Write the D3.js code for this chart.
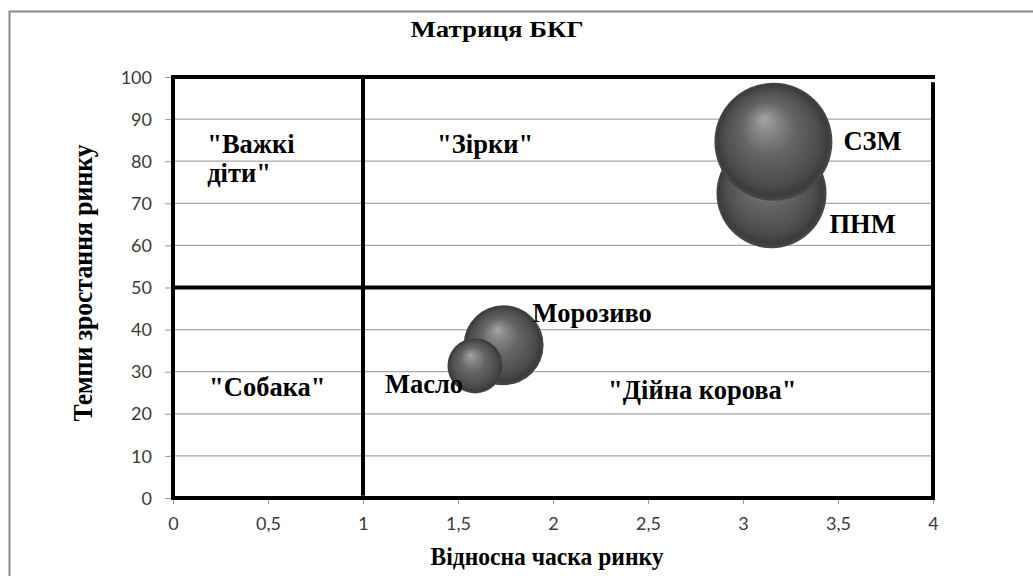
<!DOCTYPE html>
<html>
<head>
<meta charset="utf-8">
<script src="https://cdn.jsdelivr.net/npm/d3@7"></script>
<style>
  html, body { margin: 0; padding: 0; background: #fff; }
  svg { display: block; }
  .tick-label { font-family: Lato, "Open Sans", sans-serif; font-size: 18px; fill: #3a3a3a; }
  .serif-bold { font-family: "Liberation Serif", "Times New Roman", serif; font-weight: bold; fill: #000; }
</style>
</head>
<body>
<svg id="chart" width="1033" height="576"></svg>
<script>
// BCG matrix: relative market share vs. market growth rate
const products = ["ПНМ", "СЗМ", "Морозиво", "Масло"];
const marketShare = [3.15, 3.16, 1.74, 1.59];
const growthRate = [72.4, 84.6, 36.3, 31.4];
const bubbleSize = [87, 100, 46, 22];

const xTickValues = [0, 0.5, 1, 1.5, 2, 2.5, 3, 3.5, 4];
const yTickValues = [0, 10, 20, 30, 40, 50, 60, 70, 80, 90, 100];

// Quadrant captions (anchored in data space)
const quadrantText = [
  { lines: ["\"Важкі", "діти\""], x: 0.18, y: 82 },
  { lines: ["\"Зірки\""], x: 1.39, y: 82 },
  { lines: ["\"Собака\""], x: 0.19, y: 24.2 },
  { lines: ["\"Дійна корова\""], x: 2.29, y: 23.6 }
];

// Matrix dividing lines: frame plus the two split lines
const dividers = [
  { x1: 0, y1: 0, x2: 0, y2: 100 },
  { x1: 0, y1: 100, x2: 4, y2: 100 },
  { x1: 0, y1: 0, x2: 4, y2: 0 },
  { x1: 4, y1: 0, x2: 4, y2: 98.3 },
  { x1: 1, y1: 1, x2: 1, y2: 100 },
  { x1: 0, y1: 50, x2: 4, y2: 50 }
];

const svg = d3.select("#chart");
const W = 1033, H = 576;
const margin = { left: 173, right: 100, top: 77, bottom: 78 };

const x = d3.scaleLinear().domain([0, 4]).range([margin.left, W - margin.right]);
const y = d3.scaleLinear().domain([0, 100]).range([H - margin.bottom, margin.top]);
const r = d3.scaleSqrt().domain([0, 100]).range([0, 59]);

// outer chart frame
svg.append("rect")
  .attr("x", 9.5).attr("y", 11.5)
  .attr("width", W + 10).attr("height", H + 10)
  .attr("fill", "none").attr("stroke", "#8a8a8a").attr("stroke-width", 2);

const defs = svg.append("defs");
const grad = defs.append("radialGradient")
  .attr("id", "sphere")
  .attr("cx", "0.5").attr("cy", "0.5").attr("r", "0.5")
  .attr("fx", "0.42").attr("fy", "0.3");
[[0, "#a6a6a6"], [0.18, "#888"], [0.45, "#656565"], [0.8, "#4d4d4d"], [0.94, "#3c3c3c"], [1, "#4a4a4a"]]
  .forEach(([o, c]) => grad.append("stop").attr("offset", o).attr("stop-color", c));

const shadow = defs.append("filter").attr("id", "soft").attr("x", "-10%").attr("y", "-10%").attr("width", "120%").attr("height", "120%");
shadow.append("feGaussianBlur").attr("stdDeviation", 0.6);

// gridlines
svg.append("g")
  .selectAll("line")
  .data(yTickValues)
  .join("line")
  .attr("x1", x(0)).attr("x2", x(4))
  .attr("y1", d => y(d)).attr("y2", d => y(d))
  .attr("stroke", "#a8a8a8").attr("stroke-width", 1.2);

// y axis
const yAxis = svg.append("g")
  .attr("transform", `translate(${x(0)},0)`)
  .call(d3.axisLeft(y).tickValues(yTickValues).tickSize(8).tickPadding(13).tickFormat(d3.format("d")));
yAxis.select(".domain").remove();
yAxis.selectAll(".tick line").attr("stroke", "#999");
yAxis.selectAll(".tick text").attr("class", "tick-label").attr("dy", "0.34em");

// x axis
const fmtComma = d => String(d).replace(".", ",");
const xAxis = svg.append("g")
  .attr("transform", `translate(0,${y(0)})`)
  .call(d3.axisBottom(x).tickValues(xTickValues).tickSize(6).tickPadding(13).tickFormat(fmtComma));
xAxis.select(".domain").remove();
xAxis.selectAll(".tick line").attr("stroke", "#999");
xAxis.selectAll(".tick text").attr("class", "tick-label");

// thick matrix lines with a faint grey halo
const lineG = svg.append("g");
lineG.selectAll("line.halo")
  .data(dividers)
  .join("line")
  .attr("class", "halo")
  .attr("x1", d => x(d.x1) + 1).attr("x2", d => x(d.x2) + 1)
  .attr("y1", d => y(d.y1) + 1.5).attr("y2", d => y(d.y2) + 1.5)
  .attr("stroke", "#bbb").attr("stroke-width", 5).attr("filter", "url(#soft)");
lineG.selectAll("line.main")
  .data(dividers)
  .join("line")
  .attr("class", "main")
  .attr("x1", d => x(d.x1)).attr("x2", d => x(d.x2))
  .attr("y1", d => y(d.y1)).attr("y2", d => y(d.y2))
  .attr("stroke", "#000").attr("stroke-width", 4).attr("stroke-linecap", "square");

// bubbles
const bubbles = products.map((name, i) => ({ name, x: marketShare[i], y: growthRate[i], s: bubbleSize[i] }));
svg.append("g")
  .selectAll("circle")
  .data(bubbles)
  .join("circle")
  .attr("cx", d => x(d.x)).attr("cy", d => y(d.y))
  .attr("r", d => r(d.s))
  .attr("fill", "url(#sphere)")
  .attr("filter", "url(#soft)");

// bubble labels
const labelOffset = {
  "ПНМ": { dx: 58, dy: 40, anchor: "start" },
  "СЗМ": { dx: 70, dy: 8, anchor: "start" },
  "Морозиво": { dx: 29, dy: -23, anchor: "start" },
  "Масло": { dx: -12, dy: 27, anchor: "end" }
};
svg.append("g")
  .selectAll("text")
  .data(bubbles)
  .join("text")
  .attr("class", "serif-bold")
  .attr("font-size", 26.5)
  .attr("x", d => x(d.x) + labelOffset[d.name].dx)
  .attr("y", d => y(d.y) + labelOffset[d.name].dy)
  .attr("text-anchor", d => labelOffset[d.name].anchor)
  .text(d => d.name);

// quadrant captions
const qg = svg.append("g");
quadrantText.forEach(q => {
  q.lines.forEach((t, k) => {
    qg.append("text")
      .attr("class", "serif-bold")
      .attr("font-size", 26.5)
      .attr("x", x(q.x))
      .attr("y", y(q.y) + k * 29)
      .text(t);
  });
});

// title
svg.append("text")
  .attr("class", "serif-bold")
  .attr("font-size", 23)
  .attr("x", 497).attr("y", 37)
  .attr("text-anchor", "middle")
  .attr("textLength", 173).attr("lengthAdjust", "spacingAndGlyphs")
  .text("Матриця БКГ");

// axis titles
svg.append("text")
  .attr("class", "serif-bold")
  .attr("font-size", 26)
  .attr("x", 547).attr("y", 565)
  .attr("text-anchor", "middle")
  .attr("textLength", 233).attr("lengthAdjust", "spacingAndGlyphs")
  .text("Відносна часка ринку");

svg.append("text")
  .attr("class", "serif-bold")
  .attr("font-size", 27)
  .attr("transform", "translate(92,283) rotate(-90)")
  .attr("text-anchor", "middle")
  .attr("textLength", 277).attr("lengthAdjust", "spacingAndGlyphs")
  .text("Темпи зростання ринку");
</script>
</body>
</html>
